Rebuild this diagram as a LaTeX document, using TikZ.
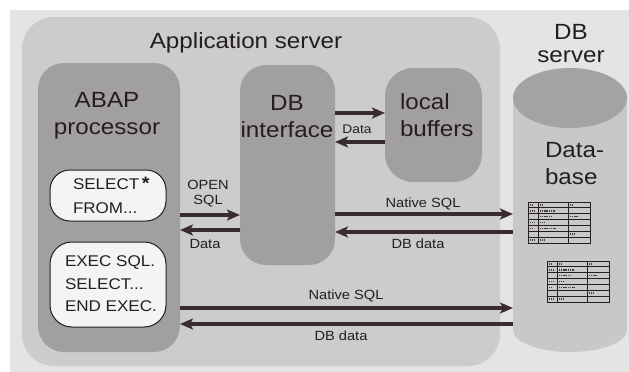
\documentclass[tikz,border=0pt]{standalone}
\usepackage{fontspec}
\setmainfont{Liberation Sans}[FakeStretch=1.1]
\usetikzlibrary{arrows.meta}
\definecolor{bgc}{RGB}{228,228,228}
\definecolor{appc}{RGB}{204,204,204}
\definecolor{darkc}{RGB}{162,159,162}
\definecolor{cyltop}{RGB}{164,162,164}
\definecolor{cylbody}{RGB}{200,200,200}
\definecolor{codec}{RGB}{244,244,242}
\definecolor{inkc}{RGB}{36,30,32}
\definecolor{arrc}{RGB}{58,44,46}
\newcommand\dbtablepic[2]{%
  \begin{scope}[shift={(#1,#2)}]
    \draw[tabline] (0,0) rectangle (62,41);
    \foreach \i in {1,...,6} \draw[tabline] (0,{\i*41/7}) -- (62,{\i*41/7});
    \draw[tabline] (10,0) -- (10,41);
    \draw[tabline] (40,0) -- (40,41);
    \foreach \r/\a/\b in {0/2/4,0/12/14,0/42/44,1/2/7,1/12/27,2/12/23,2/42/51,3/2/7,3/12/17,4/2/4,4/12/28,5/42/47,6/2/7,6/12/17}
      \draw[dotline] (\a,{(\r+0.5)*41/7}) -- (\b,{(\r+0.5)*41/7});
  \end{scope}}
\begin{document}
\begin{tikzpicture}[x=1pt,y=-1pt,
  every node/.style={inner sep=0pt,outer sep=0pt,text=inkc},
  panel/.style={fill=#1,draw=none},
  big/.style={font=\fontsize{22}{27}\selectfont},
  code/.style={font=\fontsize{15.5}{24}\selectfont,align=left,anchor=north west},
  small/.style={font=\fontsize{13.3}{15}\selectfont},
  arr/.style={draw=arrc,line width=3.6pt,-{Stealth[length=13pt,width=11pt,inset=3pt]}},
  tabline/.style={draw=inkc,line width=1pt},
  dotline/.style={draw=inkc!85,line width=1.6pt,dash pattern=on 1.2pt off 0.6pt}]
\useasboundingbox (0,0) rectangle (629,372);
\fill[white] (0,0) rectangle (629,372);
\fill[bgc] (10,10) rectangle (629,372);
% application server
\node[panel=appc,rounded corners=32pt,minimum width=478pt,minimum height=349pt] (app) at (261,191.5) {};
\node[big,anchor=base] (apptitle) at (246,48) {Application server};
% ABAP processor
\node[panel=darkc,rounded corners=26pt,minimum width=142pt,minimum height=289pt] (abap) at (109,207.5) {};
\node[big,align=center,anchor=north] (abaptxt) at (107,92) {ABAP\\processor};
% DB interface
\node[panel=darkc,rounded corners=26pt,minimum width=95pt,minimum height=200pt] (dbi) at (287.5,165) {};
\node[big,align=center,anchor=north] (dbitxt) at (287,95) {DB\\interface};
% local buffers
\node[panel=darkc,rounded corners=28pt,minimum width=97pt,minimum height=114pt] (lbuf) at (433.5,125) {};
\node[big,align=left,anchor=north west] (lbuftxt) at (400,94) {local\\buffers};
% code boxes
\node[fill=codec,draw=inkc,line width=1pt,rounded corners=20pt,minimum width=116pt,minimum height=51pt] (selbox) at (108,195.5) {};
\node[code] (seltxt) at (73,177) {SELECT\,{\fontsize{18}{18}\selectfont\bfseries *}\\FROM...};
\node[fill=codec,draw=inkc,line width=1pt,rounded corners=22pt,minimum width=116pt,minimum height=85pt] (execbox) at (108,284.5) {};
\node[code,font=\fontsize{15.5}{22.5}\selectfont] (exectxt) at (65,256) {EXEC SQL.\\SELECT...\\END EXEC.};
% DB server cylinder
\fill[cylbody] (513,98) rectangle (627,330);
\fill[cylbody] (570,330) ellipse [x radius=57, y radius=22];
\fill[cyltop] (570,98) ellipse [x radius=57, y radius=30];
\node[minimum width=114pt,minimum height=284pt] (db) at (570,210) {};
\node[big,align=center,anchor=north,font=\fontsize{22}{23}\selectfont] (dbsrv) at (571,24) {DB\\server};
\node[big,align=left,anchor=north west] (dbtxt) at (545,142) {Data-\\base};
\dbtablepic{528}{202}
\dbtablepic{547}{261}
% arrows
\draw[arr] (abap.east |- 0,215) -- (dbi.west |- 0,215);
\draw[arr] (dbi.west |- 0,230) -- (abap.east |- 0,230);
\node[small,align=center,anchor=north] (opensql) at (208,180) {OPEN\\SQL};
\node[small,anchor=base] (data1) at (205,248) {Data};
\draw[arr] (dbi.east |- 0,113) -- (lbuf.west |- 0,113);
\draw[arr] (lbuf.west |- 0,142) -- (dbi.east |- 0,142);
\node[small,font=\fontsize{12.5}{15}\selectfont,anchor=base] (data2) at (357,133) {Data};
\draw[arr] (dbi.east |- 0,214) -- (db.west |- 0,214);
\draw[arr] (db.west |- 0,232) -- (dbi.east |- 0,232);
\node[small,anchor=base] (nsql1) at (423,207) {Native SQL};
\node[small,anchor=base] (dbd1) at (418,248) {DB data};
\draw[arr] (abap.east |- 0,308) -- (db.west |- 0,308);
\draw[arr] (db.west |- 0,324) -- (abap.east |- 0,324);
\node[small,anchor=base] (nsql2) at (346,299) {Native SQL};
\node[small,anchor=base] (dbd2) at (341,340) {DB data};
\end{tikzpicture}
\end{document}
